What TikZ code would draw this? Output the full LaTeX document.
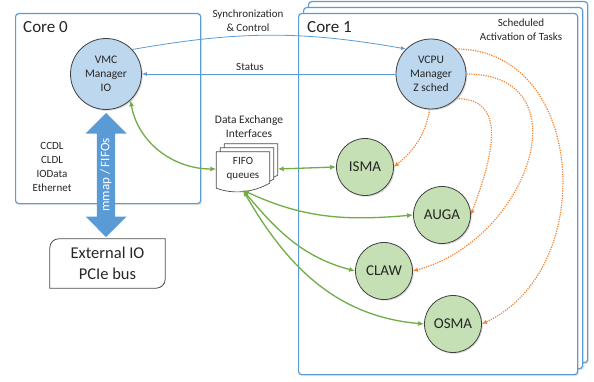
\documentclass[tikz,border=0pt]{standalone}
\usepackage{fontspec}
\setmainfont{Carlito}
\usetikzlibrary{arrows.meta,positioning,calc,shadows,shapes.arrows,backgrounds}
\definecolor{coreblue}{HTML}{5B9BD5}
\definecolor{mgrblue}{HTML}{BDD7EE}
\definecolor{taskgreen}{HTML}{C5E0B4}
\definecolor{linkgreen}{HTML}{70AD47}
\definecolor{schedorange}{HTML}{F4822E}
\definecolor{inkgrey}{HTML}{262626}

\tikzset{
  corebox/.style={draw=coreblue, line width=1.2pt, fill=white, rounded corners=3pt, anchor=north west,
    drop shadow={opacity=0.2, shadow xshift=1.5pt, shadow yshift=-1.5pt}},
  corelbl/.style={font=\fontsize{17}{20}\selectfont, inner sep=0pt},
  mgrnode/.style={circle, draw=black!75, line width=0.8pt, fill=mgrblue, minimum size=71pt, inner sep=0pt, align=center,
    font=\fontsize{11.5}{14}\selectfont, drop shadow={opacity=0.3, shadow xshift=1.2pt, shadow yshift=-1.2pt}},
  tasknode/.style={circle, draw=black!75, line width=0.8pt, fill=taskgreen, minimum size=57pt, inner sep=0pt,
    font=\fontsize{15}{17}\selectfont, drop shadow={opacity=0.3, shadow xshift=1.2pt, shadow yshift=-1.2pt}},
  lbl/.style={font=\fontsize{11}{14}\selectfont, align=center, inner sep=1pt},
  sheet/.style={draw=black!70, line width=0.7pt, fill=white},
  iobox/.style={draw=black!70, line width=0.8pt},
  ctrlline/.style={coreblue, line width=0.8pt, -{Latex[length=5pt,width=4pt]}},
  dataline/.style={linkgreen, line width=1.3pt, {Latex[length=6pt,width=5pt]}-{Latex[length=6pt,width=5pt]}},
  schedline/.style={schedorange, line width=1.2pt, dash pattern=on 1.2pt off 1.2pt, -{Latex[length=5pt,width=4.5pt]}}
}

\begin{document}
\begin{tikzpicture}[x=1pt, y=1pt, text=inkgrey]
\useasboundingbox (0,0) rectangle (594,381);

% cores
\foreach \o in {2,1}
  \node[corebox, minimum width=279pt, minimum height=361pt] at (298+5*\o, 368+6*\o) {};
\node[corebox, minimum width=279pt, minimum height=361pt] (core1) at (298,368) {};
\node[corebox, minimum width=185pt, minimum height=190pt] (core0) at (15,368) {};
\node[corelbl, anchor=base west] (core0lbl) at (23,348) {Core 0};
\node[corelbl, anchor=base west] (core1lbl) at (307,348) {Core 1};

\node[mgrnode] (vmc) at (106,307) {VMC\\Manager\\IO};
\node[mgrnode, minimum size=70pt] (vcpu) at (431,307) {VCPU\\Manager\\Z sched};
\node[tasknode] (isma) at (365,214) {ISMA};
\node[tasknode] (auga) at (442,166) {AUGA};
\node[tasknode] (claw) at (384,110) {CLAW};
\node[tasknode] (osma) at (453,57) {OSMA};

\node[lbl] (synclbl) at (248,360) {Synchronization\\\& Control};
\node[lbl] (statuslbl) at (250,314) {Status};
\node[lbl] (schedlbl) at (521,351) {Scheduled\\Activation of Tasks};
\node[lbl, font=\fontsize{11.5}{14}\selectfont] (dxlbl) at (249,254) {Data Exchange\\Interfaces};
\node[lbl] (ifacelbl) at (52,214) {CCDL\\CLDL\\IOData\\Ethernet};

% fifo stack
\node[lbl, minimum width=53pt, minimum height=34pt, inner sep=0pt] (fifo) at (243,212) {FIFO\\queues};
\begin{scope}[on background layer]
\foreach \o in {8,4,0}
  \draw[sheet] ([shift={(\o,\o)}]fifo.north west) -- ([shift={(\o,\o)}]fifo.north east)
    -- ([shift={(\o,\o+3)}]fifo.south east) .. controls +(-18,-10) and +(16,-6) .. ([shift={(\o,\o-2)}]fifo.south west) -- cycle;
\end{scope}

% external io
\node[double arrow, fill=coreblue, rotate=90, minimum height=124pt, minimum width=41pt, double arrow head extend=11pt,
  inner sep=3pt, text=white, font=\fontsize{13}{13}\selectfont] (mmap) at (106,206) {mmap / FIFOs};
\node[font=\fontsize{16.5}{21}\selectfont, align=center, minimum width=115pt, minimum height=49pt] (extio) at (107.5,117.5) {External IO\\PCIe bus};
\draw[iobox] (extio.west) [rounded corners=9pt] -- (extio.north west) -- (extio.north) [sharp corners] -- (extio.north east)
  -- (extio.east) [rounded corners=9pt] -- (extio.south east) -- (extio.south) [sharp corners] -- (extio.south west) -- cycle;

\draw[ctrlline] (vmc.43) to[out=10, in=170] (vcpu.135);
\draw[ctrlline] (vcpu.west) -- (vmc.east);

\draw[dataline] (vmc.-47) to[out=-80, in=180] (fifo.west);
\draw[dataline] ([xshift=8pt]fifo.east) -- (isma.west);
\draw[dataline] ([yshift=-4pt]fifo.south) to[out=-25, in=185] (auga.west);
\draw[dataline] ([yshift=-4pt]fifo.south) to[out=-50, in=165] (claw.west);
\draw[dataline] ([yshift=-4pt]fifo.south) to[out=-60, in=175] (osma.west);

\draw[schedline] (vcpu.-92) to[out=-100, in=40] (isma.east);
\draw[schedline] (vcpu.-44) to[out=0, in=70, looseness=1.2] (auga.east);
\draw[schedline] (vcpu.east) to[out=0, in=15, looseness=1.5] (claw.east);
\draw[schedline] (vcpu.45) to[out=0, in=25, looseness=1.2] (osma.east);
\end{tikzpicture}
\end{document}
